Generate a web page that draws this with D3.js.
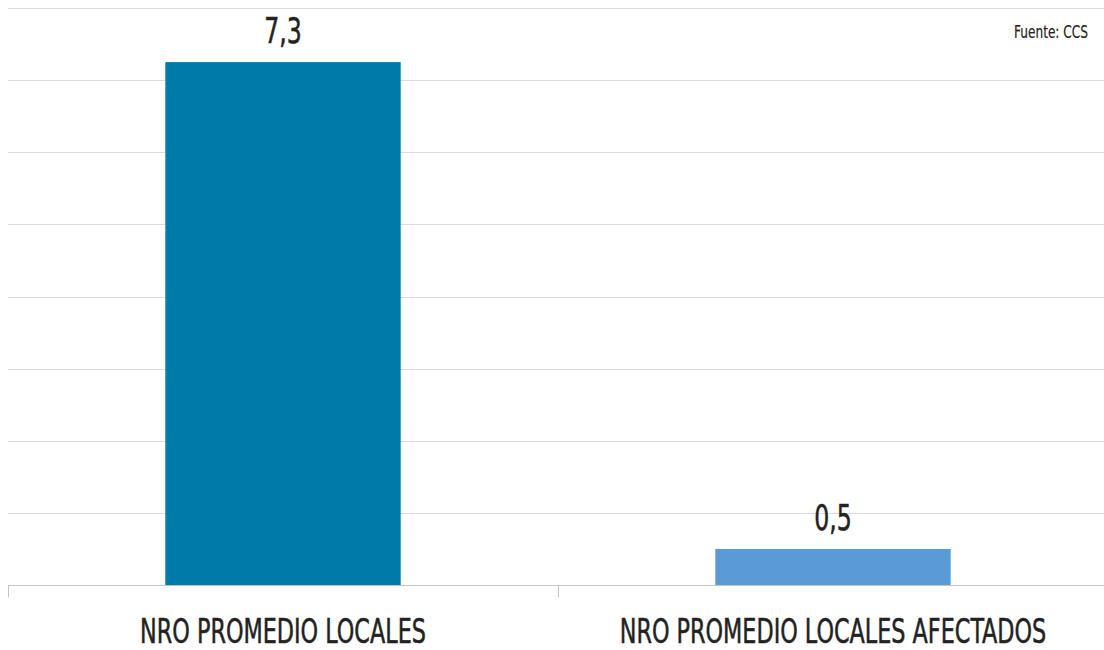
<!DOCTYPE html>
<html><head><meta charset="utf-8">
<script src="https://cdn.jsdelivr.net/npm/d3@7"></script>
<style>
html,body{margin:0;padding:0;background:#fff;}
text{font-family:"DejaVu Sans Condensed","DejaVu Sans",sans-serif;fill:#222;stroke:#222;stroke-width:0.5px;}
</style></head>
<body><svg id="c" width="1104" height="650"></svg>
<script>
const categories = ["NRO PROMEDIO LOCALES", "NRO PROMEDIO LOCALES AFECTADOS"];
const values = [7.25, 0.5];
const valueLabels = ["7,3", "0,5"];
const barColors = ["#007ba9", "#5b9bd5"];
const yTicks = [0,1,2,3,4,5,6,7,8];
const source = "Fuente: CCS";

const svg = d3.select("#c");
const W = 1104, H = 650;
const m = {left: 8, right: -4, top: 8, bottom: 65};
const x = d3.scaleBand().domain(categories).range([m.left, W - m.right]).paddingInner(0).paddingOuter(0);
const y = d3.scaleLinear().domain([0, 8]).range([H - m.bottom, m.top]);
const sx = 0.73;

// gridlines
svg.append("g").selectAll("line").data(yTicks.filter(d => d > 0)).join("line")
  .attr("x1", m.left).attr("x2", W).attr("y1", d => Math.round(y(d)) + 0.5).attr("y2", d => Math.round(y(d)) + 0.5)
  .attr("stroke", "#dcdcdc").attr("stroke-width", 1);

// bars
const bw = x.bandwidth() * 0.428;
svg.append("g").selectAll("rect").data(values).join("rect")
  .attr("x", (d, i) => x(categories[i]) + (x.bandwidth() - bw) / 2)
  .attr("width", bw)
  .attr("y", d => y(d))
  .attr("height", d => y(0) - y(d))
  .attr("fill", (d, i) => barColors[i]);

// x axis
const xa = svg.append("g").attr("transform", `translate(0,${Math.round(y(0)) + 0.5})`);
xa.append("line").attr("x1", m.left).attr("x2", W).attr("stroke", "#c4c4c4");
const bounds = categories.map(c => x(c)).concat([x.range()[1]]);
xa.selectAll("line.t").data(bounds).join("line").attr("class", "t")
  .attr("x1", d => Math.round(d) + 0.5).attr("x2", d => Math.round(d) + 0.5)
  .attr("y1", 0).attr("y2", 12).attr("stroke", "#c4c4c4");

// category labels
svg.append("g").selectAll("text").data(categories).join("text")
  .attr("transform", d => `translate(${x(d) + x.bandwidth() / 2},${H - 7}) scale(${sx},1)`)
  .attr("text-anchor", "middle").attr("font-size", 34).text(d => d);

// value labels
svg.append("g").selectAll("text").data(values).join("text")
  .attr("transform", (d, i) => `translate(${x(categories[i]) + x.bandwidth() / 2},${y(d) - 19}) scale(${sx},1)`)
  .attr("text-anchor", "middle").attr("font-size", 36).text((d, i) => valueLabels[i]);

// source
svg.append("text").attr("transform", `translate(1088,38) scale(${sx},1)`)
  .attr("text-anchor", "end").attr("font-size", 18.5).style("stroke-width", "0.2px").text(source);
</script></body></html>
